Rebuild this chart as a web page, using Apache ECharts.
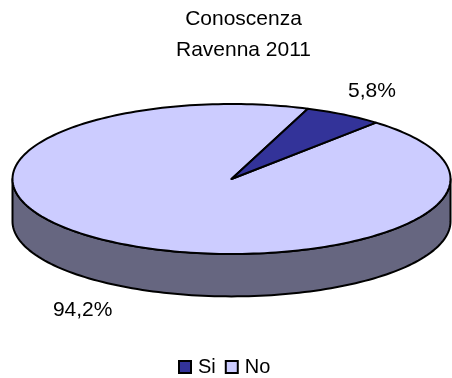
<!DOCTYPE html>
<html><head><meta charset="utf-8">
<style>html,body{margin:0;padding:0;background:#fff}#c{width:452px;height:378px}</style>
<script src="https://cdn.jsdelivr.net/npm/echarts@6/dist/echarts.min.js"></script>
</head><body><div id="c"></div>
<script>
const titleLines = ['Conoscenza', 'Ravenna 2011'];
const categories = ['Si', 'No'];
const values = [5.8, 94.2];
const labels = ['5,8%', '94,2%'];
const colors = ['#333399', '#CCCCFF'];
const sideColor = '#666680';
const startAngle = 20.4;
const cx = 231.5, cy = 179, rx = 219, ry = 75, depth = 42.4;
const FONT = '"Liberation Sans", Arial, sans-serif';
const total = values.reduce((a, b) => a + b, 0);
const pt = (deg, dy = 0) => {
  const t = deg * Math.PI / 180;
  return [cx + rx * Math.sin(t), cy + dy - ry * Math.cos(t)];
};
const arc = (a, b, dy = 0) => {
  const out = [], n = Math.max(2, Math.ceil(Math.abs(b - a) / 1.5));
  for (let i = 0; i <= n; i++) out.push(pt(a + (b - a) * i / n, dy));
  return out;
};
let acc = startAngle;
const spans = values.map(v => { const s = [acc, acc + v / total * 360]; acc = s[1]; return s; });
const labelPos = [[372, 91], [82.7, 310.5]];
const stroke = { stroke: '#000', lineWidth: 2, lineJoin: 'round' };

const chart = echarts.init(document.getElementById('c'), null, { renderer: 'canvas' });
const series = categories.map((name, i) => ({
  name, type: 'custom', coordinateSystem: 'none',
  itemStyle: { color: colors[i], borderColor: '#000', borderWidth: 2 },
  z: i === 1 ? 2 : 3,
  data: [[values[i]]],
  renderItem() {
    const [a, b] = spans[i];
    const children = [];
    const sa = Math.max(a, 90), sb = Math.min(b, 270);
    if (sb > sa) {
      children.push({ type: 'polygon', shape: { points: arc(sa, sb).concat(arc(sb, sa, depth)) },
        style: Object.assign({ fill: sideColor }, stroke) });
    }
    children.push({ type: 'polygon', shape: { points: [[cx, cy]].concat(arc(a, b)) },
      style: Object.assign({ fill: colors[i] }, stroke) });
    children.push({ type: 'text', style: { text: labels[i], x: labelPos[i][0], y: labelPos[i][1],
      align: 'center', verticalAlign: 'middle', font: '21px ' + FONT, fill: '#000' } });
    return { type: 'group', children };
  }
}));
chart.setOption({
  animation: false,
  backgroundColor: '#fff',
  title: { text: titleLines.join('\n'), left: 243.5, top: 3.5, textAlign: 'center', padding: 0,
    textStyle: { fontFamily: FONT, fontSize: 21, fontWeight: 'normal', color: '#000', lineHeight: 31 } },
  legend: { data: categories, top: 357, left: 178, padding: 0, itemWidth: 12, itemHeight: 12, itemGap: 9,
    icon: 'rect', textStyle: { fontFamily: FONT, fontSize: 20, color: '#000', padding: [0, 0, 0, 2] } },
  series
});
</script></body></html>
